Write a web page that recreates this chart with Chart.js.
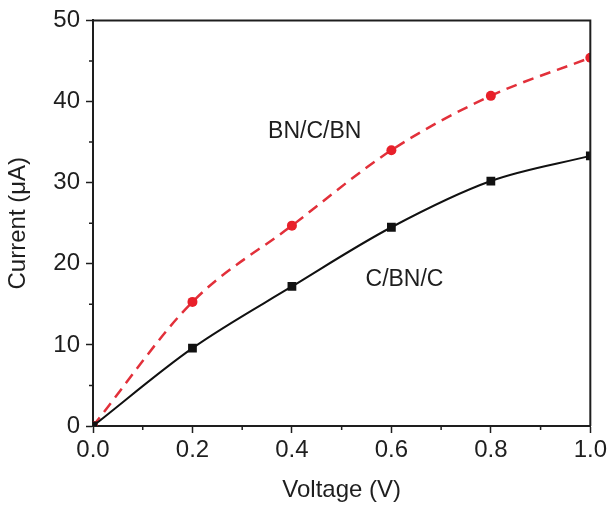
<!DOCTYPE html>
<html>
<head>
<meta charset="utf-8">
<script src="https://cdn.jsdelivr.net/npm/chart.js@4"></script>
<style>
  html, body { margin: 0; padding: 0; background: #fff; }
  #wrap { width: 610px; height: 509px; }
</style>
</head>
<body>
<div id="wrap"><canvas id="ivChart" width="610" height="509"></canvas></div>
<script>
// data
const voltage = [0, 0.2, 0.4, 0.6, 0.8, 1.0];
const currentCBNC = [0, 9.6, 17.2, 24.5, 30.2, 33.3];
const currentBNCBN = [0, 15.3, 24.7, 34.0, 40.7, 45.4];
const xTicks = [0, 0.2, 0.4, 0.6, 0.8, 1.0];
const yTicks = [0, 10, 20, 30, 40, 50];

const FONT = "'Liberation Sans', Arial, sans-serif";
const INK = "#1e1e1e";

function pts(ys) {
  return voltage.map((v, i) => ({ x: v, y: ys[i] }));
}

// frame + minor ticks + curve labels
const extras = {
  id: "extras",
  afterDraw(chart) {
    const { ctx, chartArea: a, scales } = chart;
    const xs = scales.x, ys = scales.y;
    ctx.save();
    ctx.strokeStyle = INK;
    ctx.lineWidth = 2;
    ctx.beginPath();
    ctx.moveTo(a.left, a.top);
    ctx.lineTo(a.right, a.top);
    ctx.lineTo(a.right, a.bottom);
    ctx.stroke();

    // minor ticks
    ctx.lineWidth = 1.5;
    ctx.beginPath();
    for (let i = 0; i < xTicks.length - 1; i++) {
      const px = xs.getPixelForValue((xTicks[i] + xTicks[i + 1]) / 2);
      ctx.moveTo(px, a.bottom);
      ctx.lineTo(px, a.bottom + 4);
    }
    for (let i = 0; i < yTicks.length - 1; i++) {
      const py = ys.getPixelForValue((yTicks[i] + yTicks[i + 1]) / 2);
      ctx.moveTo(a.left, py);
      ctx.lineTo(a.left - 4, py);
    }
    ctx.stroke();

    ctx.fillStyle = INK;
    ctx.font = "23px " + FONT;
    ctx.textBaseline = "middle";
    ctx.textAlign = "left";
    ctx.fillText("BN/C/BN", xs.getPixelForValue(0.352), ys.getPixelForValue(36.3));
    ctx.fillText("C/BN/C", xs.getPixelForValue(0.548), ys.getPixelForValue(18.0));
    ctx.restore();
  }
};

new Chart(document.getElementById("ivChart"), {
  type: "line",
  data: {
    datasets: [
      {
        label: "C/BN/C",
        data: pts(currentCBNC),
        borderColor: "#111",
        backgroundColor: "#111",
        borderWidth: 2,
        pointStyle: "rect",
        pointRadius: 6.2,
        pointBorderWidth: 0,
        cubicInterpolationMode: "monotone"
      },
      {
        label: "BN/C/BN",
        data: pts(currentBNCBN),
        borderColor: "#e2303a",
        backgroundColor: "#e8202a",
        borderWidth: 2.5,
        borderDash: [11, 7],
        pointStyle: "circle",
        pointRadius: 5,
        pointBorderWidth: 0,
        cubicInterpolationMode: "monotone"
      }
    ]
  },
  options: {
    responsive: false,
    animation: false,
    layout: { padding: { top: 19, right: 17, left: 0, bottom: 0 } },
    plugins: { legend: { display: false }, tooltip: { enabled: false } },
    scales: {
      x: {
        type: "linear",
        min: 0,
        max: 1,
        afterBuildTicks: (s) => { s.ticks = xTicks.map(v => ({ value: v })); },
        afterFit: (s) => { s.height = 83; },
        border: { display: true, color: INK, width: 2 },
        grid: { drawOnChartArea: false, tickLength: 7, tickWidth: 1.5, tickColor: INK },
        ticks: {
          color: INK,
          padding: 3,
          maxRotation: 0,
          font: { family: FONT, size: 24 },
          callback: (v) => Number(v).toFixed(1)
        },
        title: {
          display: true,
          text: "Voltage (V)",
          color: INK,
          font: { family: FONT, size: 24 },
          padding: { top: 6 }
        }
      },
      y: {
        min: 0,
        max: 50,
        afterBuildTicks: (s) => { s.ticks = yTicks.map(v => ({ value: v })); },
        afterFit: (s) => { s.width = 93; },
        border: { display: true, color: INK, width: 2 },
        grid: { drawOnChartArea: false, tickLength: 7, tickWidth: 1.5, tickColor: INK },
        ticks: {
          color: INK,
          padding: 6,
          font: { family: FONT, size: 24 }
        },
        title: {
          display: true,
          text: "Current (\u03bcA)",
          color: INK,
          font: { family: FONT, size: 24 },
          padding: { bottom: 4 }
        }
      }
    }
  },
  plugins: [extras]
});
</script>
</body>
</html>
